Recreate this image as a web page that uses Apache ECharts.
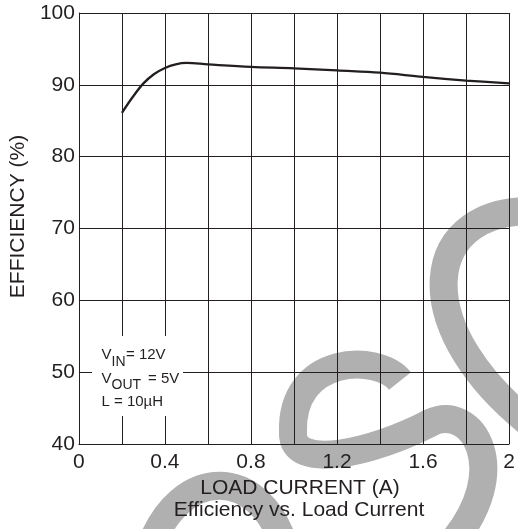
<!DOCTYPE html>
<html><head><meta charset="utf-8">
<script src="https://cdn.jsdelivr.net/npm/echarts@6/dist/echarts.min.js"></script>
<style>html,body{margin:0;padding:0;background:#fff}#c{width:518px;height:529px}</style>
</head><body><div id="c"></div>
<script>
// ---- data ----
const loadCurrent = [0.2, 0.25, 0.3, 0.35, 0.4, 0.45, 0.5, 0.6, 0.8, 1.0, 1.2, 1.4, 1.6, 1.8, 2.0];
const efficiency  = [86.1, 88.3, 90.2, 91.5, 92.35, 92.85, 93.05, 92.85, 92.5, 92.3, 92.0, 91.7, 91.1, 90.6, 90.2];
const xTickLabels = ['0', '0.4', '0.8', '1.2', '1.6', '2'];
const yTickLabels = ['40', '50', '60', '70', '80', '90', '100'];
const xAxisName = 'LOAD CURRENT (A)';
const yAxisName = 'EFFICIENCY (%)';
const chartTitle = 'Efficiency vs. Load Current';
const noteLines = [
  { main: 'V', sub: 'IN', rest: '= 12V' },
  { main: 'V', sub: 'OUT', rest: '= 5V' },
  { main: 'L = 10µH', sub: '', rest: '' }
];

const FONT = '"Liberation Sans", Arial, Helvetica, sans-serif';
const INK = '#231f20';
const WM = '#b0b0b0';

const chart = echarts.init(document.getElementById('c'), null, { renderer: 'canvas' });

function curve(p) {
  return { type: 'bezierCurve', z: 1, silent: true,
    shape: { x1: p[0], y1: p[1], cpx1: p[2], cpy1: p[3], cpx2: p[4], cpy2: p[5], x2: p[6], y2: p[7] },
    style: { stroke: WM, lineWidth: 28, fill: null, lineCap: 'butt' } };
}
function joint(x, y) {
  return { type: 'circle', z: 1, silent: true, shape: { cx: x, cy: y, r: 14 }, style: { fill: WM } };
}

const graphics = [
  // watermark pieces
  curve([545, 212, 420, 200, 400, 330, 545, 435]),
  curve([400, 381, 378, 353, 290, 355, 293, 433]),
  curve([293, 433, 292, 472, 375, 452, 430, 423]),
  curve([430, 423, 472, 402, 515, 470, 450, 545]),
  joint(293, 433), joint(430, 423),
  curve([150, 548, 180, 465, 260, 465, 285, 548]),
  // annotation box
  { type: 'rect', z: 100, silent: true, shape: { x: 92, y: 336, width: 91, height: 80 }, style: { fill: '#ffffff' } },
  { type: 'text', z: 101, style: { text: noteLines[0].main, x: 101.5, y: 355, fill: INK, fontSize: 15, fontFamily: FONT, verticalAlign: 'middle' } },
  { type: 'text', z: 101, style: { text: noteLines[0].sub, x: 111.5, y: 362, fill: INK, fontSize: 14, fontFamily: FONT, verticalAlign: 'middle' } },
  { type: 'text', z: 101, style: { text: noteLines[0].rest, x: 126, y: 355, fill: INK, fontSize: 15, fontFamily: FONT, verticalAlign: 'middle' } },
  { type: 'text', z: 101, style: { text: noteLines[1].main, x: 101.5, y: 378.5, fill: INK, fontSize: 15, fontFamily: FONT, verticalAlign: 'middle' } },
  { type: 'text', z: 101, style: { text: noteLines[1].sub, x: 111.5, y: 385.5, fill: INK, fontSize: 14, fontFamily: FONT, verticalAlign: 'middle' } },
  { type: 'text', z: 101, style: { text: noteLines[1].rest, x: 148, y: 378.5, fill: INK, fontSize: 15, fontFamily: FONT, verticalAlign: 'middle' } },
  { type: 'text', z: 101, style: { text: noteLines[2].main, x: 101.5, y: 401.5, fill: INK, fontSize: 15, fontFamily: FONT, verticalAlign: 'middle' } }
];

const option = {
  backgroundColor: '#ffffff',
  animation: false,
  textStyle: { fontFamily: FONT },
  title: {
    text: chartTitle, left: 299, top: 500, textAlign: 'center', padding: 0, z: 20,
    textStyle: { fontSize: 21, fontWeight: 'normal', color: INK, fontFamily: FONT }
  },
  grid: { left: 77, right: 9, top: 13, bottom: 85, containLabel: false },
  xAxis: {
    type: 'value', min: 0, max: 2, interval: 0.2, z: 5,
    name: xAxisName, nameLocation: 'middle', nameGap: 33,
    nameTextStyle: { fontSize: 21, color: INK, fontFamily: FONT, padding: [0, 0, 0, 12] },
    axisLine: { show: true, lineStyle: { color: INK, width: 1 } },
    axisTick: { show: false },
    splitLine: { show: true, lineStyle: { color: INK, width: 1 } },
    axisLabel: {
      margin: 8, fontSize: 21, color: INK, fontFamily: FONT, showMinLabel: true, showMaxLabel: true,
      formatter: function (v) { const r = Math.round(v * 10); return r % 4 === 0 ? xTickLabels[r / 4] : ''; }
    }
  },
  yAxis: {
    type: 'value', min: 40, max: 100, interval: 10, z: 5,
    name: yAxisName, nameLocation: 'middle', nameGap: 49,
    nameTextStyle: { fontSize: 21, color: INK, fontFamily: FONT, padding: [0, 0, 0, 24] },
    axisLine: { show: true, lineStyle: { color: INK, width: 1 } },
    axisTick: { show: false },
    splitLine: { show: true, lineStyle: { color: INK, width: 1 } },
    axisLabel: {
      margin: 4, fontSize: 21, color: INK, fontFamily: FONT,
      formatter: function (v) { return yTickLabels[Math.round((v - 40) / 10)]; }
    }
  },
  series: [{
    type: 'line', smooth: 0.35, showSymbol: false, z: 20,
    lineStyle: { color: INK, width: 2.3 },
    data: loadCurrent.map((x, i) => [x, efficiency[i]])
  }],
  graphic: { elements: graphics }
};
chart.setOption(option);
</script>
</body></html>
